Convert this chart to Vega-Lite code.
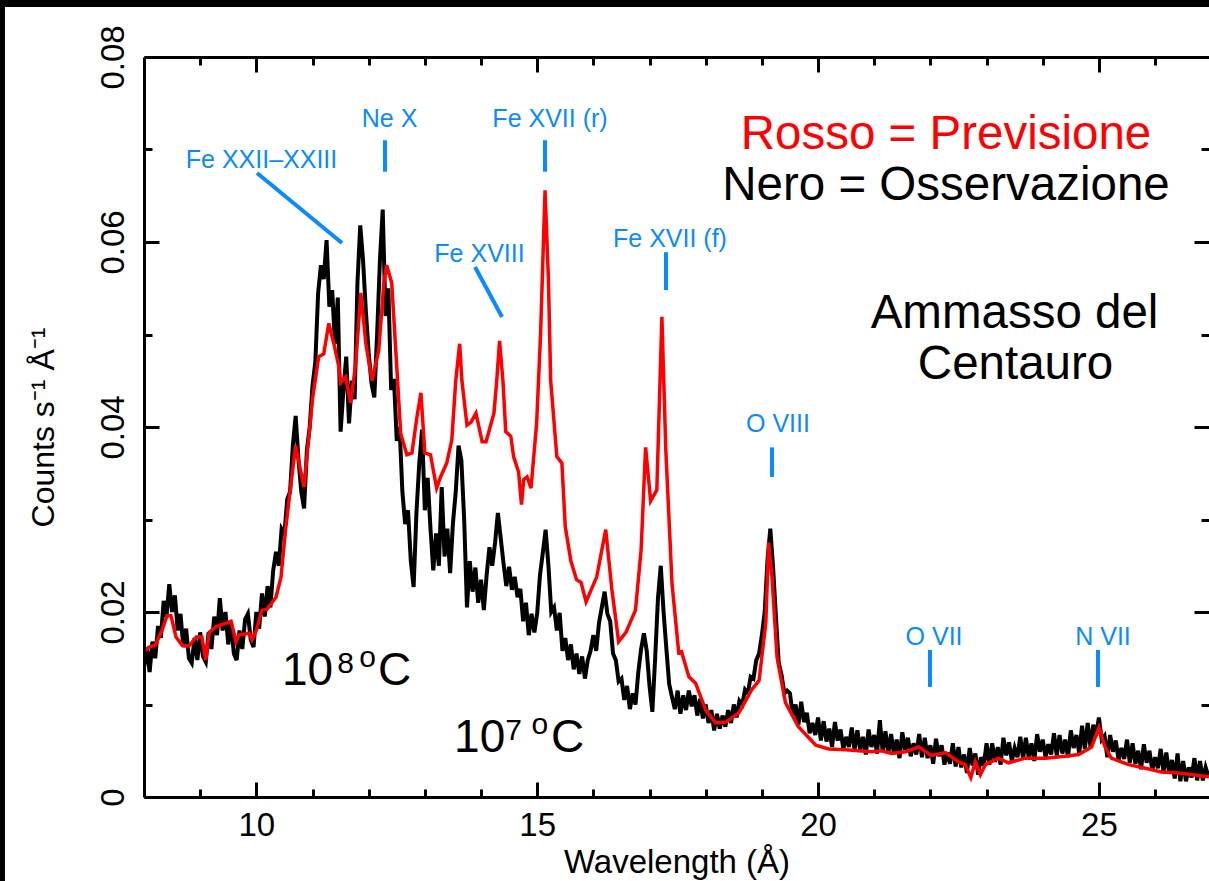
{
"$schema": "https://vega.github.io/schema/vega-lite/v6.json",
"autosize": {"type": "none"},
"padding": {"left": 144, "top": 57, "right": 0, "bottom": 84},
"width": 1065,
"height": 740,
"background": "black",
"config": {
  "view": {"stroke": null},
  "axis": {"grid": false, "domainColor": "black", "tickColor": "black", "labelColor": "black", "titleColor": "black", "labelFont": "Liberation Sans", "titleFont": "Liberation Sans", "labelFontSize": 33, "titleFontSize": 33, "titleFontWeight": "normal", "domainWidth": 3, "tickWidth": 3, "labelFlush": false, "labelOverlap": false},
  "text": {"font": "Liberation Sans"}
},
"datasets": {
  "obs": [
{"wl":8.00,"counts":0.0140},{"wl":8.05,"counts":0.0162},{"wl":8.10,"counts":0.0135},{"wl":8.15,"counts":0.0168},{"wl":8.20,"counts":0.0150},{"wl":8.25,"counts":0.0185},{"wl":8.30,"counts":0.0172},{"wl":8.35,"counts":0.0212},{"wl":8.40,"counts":0.0195},{"wl":8.45,"counts":0.0230},
{"wl":8.50,"counts":0.0200},{"wl":8.55,"counts":0.0218},{"wl":8.60,"counts":0.0180},{"wl":8.65,"counts":0.0198},{"wl":8.70,"counts":0.0162},{"wl":8.75,"counts":0.0182},{"wl":8.80,"counts":0.0150},{"wl":8.85,"counts":0.0145},{"wl":8.90,"counts":0.0172},{"wl":8.95,"counts":0.0148},
{"wl":9.00,"counts":0.0178},{"wl":9.05,"counts":0.0152},{"wl":9.10,"counts":0.0146},{"wl":9.15,"counts":0.0178},{"wl":9.20,"counts":0.0160},{"wl":9.25,"counts":0.0195},{"wl":9.30,"counts":0.0175},{"wl":9.35,"counts":0.0215},{"wl":9.40,"counts":0.0180},{"wl":9.45,"counts":0.0200},
{"wl":9.50,"counts":0.0165},{"wl":9.55,"counts":0.0188},{"wl":9.60,"counts":0.0155},{"wl":9.65,"counts":0.0148},{"wl":9.70,"counts":0.0180},{"wl":9.75,"counts":0.0160},{"wl":9.80,"counts":0.0192},{"wl":9.85,"counts":0.0198},{"wl":9.90,"counts":0.0170},{"wl":9.95,"counts":0.0162},
{"wl":10.00,"counts":0.0200},{"wl":10.05,"counts":0.0182},{"wl":10.10,"counts":0.0220},{"wl":10.15,"counts":0.0195},{"wl":10.20,"counts":0.0228},{"wl":10.25,"counts":0.0205},{"wl":10.30,"counts":0.0245},{"wl":10.35,"counts":0.0265},{"wl":10.40,"counts":0.0250},{"wl":10.45,"counts":0.0290},
{"wl":10.50,"counts":0.0285},{"wl":10.55,"counts":0.0322},{"wl":10.60,"counts":0.0330},{"wl":10.65,"counts":0.0380},{"wl":10.70,"counts":0.0412},{"wl":10.75,"counts":0.0365},{"wl":10.80,"counts":0.0330},{"wl":10.85,"counts":0.0312},{"wl":10.90,"counts":0.0375},{"wl":10.95,"counts":0.0400},
{"wl":11.00,"counts":0.0445},{"wl":11.05,"counts":0.0470},{"wl":11.10,"counts":0.0545},{"wl":11.15,"counts":0.0575},{"wl":11.20,"counts":0.0560},{"wl":11.25,"counts":0.0602},{"wl":11.30,"counts":0.0530},{"wl":11.35,"counts":0.0548},{"wl":11.40,"counts":0.0490},{"wl":11.45,"counts":0.0540},
{"wl":11.50,"counts":0.0395},{"wl":11.55,"counts":0.0440},{"wl":11.60,"counts":0.0476},{"wl":11.65,"counts":0.0404},{"wl":11.70,"counts":0.0450},{"wl":11.75,"counts":0.0430},{"wl":11.80,"counts":0.0556},{"wl":11.85,"counts":0.0618},{"wl":11.90,"counts":0.0580},{"wl":11.95,"counts":0.0525},
{"wl":12.00,"counts":0.0480},{"wl":12.05,"counts":0.0447},{"wl":12.10,"counts":0.0432},{"wl":12.15,"counts":0.0500},{"wl":12.20,"counts":0.0580},{"wl":12.25,"counts":0.0635},{"wl":12.30,"counts":0.0520},{"wl":12.35,"counts":0.0550},{"wl":12.40,"counts":0.0440},{"wl":12.45,"counts":0.0452},
{"wl":12.50,"counts":0.0385},{"wl":12.55,"counts":0.0400},{"wl":12.60,"counts":0.0330},{"wl":12.65,"counts":0.0295},{"wl":12.70,"counts":0.0310},{"wl":12.75,"counts":0.0255},{"wl":12.80,"counts":0.0227},{"wl":12.85,"counts":0.0307},{"wl":12.90,"counts":0.0360},{"wl":12.95,"counts":0.0397},
{"wl":13.00,"counts":0.0310},{"wl":13.05,"counts":0.0345},{"wl":13.10,"counts":0.0290},{"wl":13.15,"counts":0.0245},{"wl":13.20,"counts":0.0285},{"wl":13.25,"counts":0.0250},{"wl":13.30,"counts":0.0335},{"wl":13.35,"counts":0.0260},{"wl":13.40,"counts":0.0290},{"wl":13.45,"counts":0.0242},
{"wl":13.50,"counts":0.0296},{"wl":13.55,"counts":0.0330},{"wl":13.60,"counts":0.0380},{"wl":13.65,"counts":0.0364},{"wl":13.70,"counts":0.0300},{"wl":13.75,"counts":0.0205},{"wl":13.80,"counts":0.0255},{"wl":13.85,"counts":0.0222},{"wl":13.90,"counts":0.0248},{"wl":13.95,"counts":0.0210},
{"wl":14.00,"counts":0.0235},{"wl":14.05,"counts":0.0202},{"wl":14.10,"counts":0.0240},{"wl":14.15,"counts":0.0270},{"wl":14.20,"counts":0.0250},{"wl":14.25,"counts":0.0275},{"wl":14.30,"counts":0.0307},{"wl":14.35,"counts":0.0280},{"wl":14.40,"counts":0.0253},{"wl":14.45,"counts":0.0228},
{"wl":14.50,"counts":0.0249},{"wl":14.55,"counts":0.0224},{"wl":14.60,"counts":0.0238},{"wl":14.65,"counts":0.0216},{"wl":14.70,"counts":0.0225},{"wl":14.75,"counts":0.0190},{"wl":14.80,"counts":0.0210},{"wl":14.85,"counts":0.0175},{"wl":14.90,"counts":0.0198},{"wl":14.95,"counts":0.0178},
{"wl":15.00,"counts":0.0199},{"wl":15.05,"counts":0.0240},{"wl":15.10,"counts":0.0264},{"wl":15.15,"counts":0.0289},{"wl":15.20,"counts":0.0250},{"wl":15.25,"counts":0.0200},{"wl":15.30,"counts":0.0205},{"wl":15.35,"counts":0.0180},{"wl":15.40,"counts":0.0199},{"wl":15.45,"counts":0.0158},
{"wl":15.50,"counts":0.0172},{"wl":15.55,"counts":0.0148},{"wl":15.60,"counts":0.0165},{"wl":15.65,"counts":0.0138},{"wl":15.70,"counts":0.0155},{"wl":15.75,"counts":0.0133},{"wl":15.80,"counts":0.0152},{"wl":15.85,"counts":0.0128},{"wl":15.90,"counts":0.0148},{"wl":15.95,"counts":0.0158},
{"wl":16.00,"counts":0.0175},{"wl":16.05,"counts":0.0158},{"wl":16.10,"counts":0.0188},{"wl":16.15,"counts":0.0205},{"wl":16.20,"counts":0.0222},{"wl":16.25,"counts":0.0198},{"wl":16.30,"counts":0.0190},{"wl":16.35,"counts":0.0155},{"wl":16.40,"counts":0.0148},{"wl":16.45,"counts":0.0125},
{"wl":16.50,"counts":0.0128},{"wl":16.55,"counts":0.0105},{"wl":16.60,"counts":0.0120},{"wl":16.65,"counts":0.0095},{"wl":16.70,"counts":0.0112},{"wl":16.75,"counts":0.0100},{"wl":16.80,"counts":0.0135},{"wl":16.85,"counts":0.0160},{"wl":16.90,"counts":0.0177},{"wl":16.95,"counts":0.0158},
{"wl":17.00,"counts":0.0120},{"wl":17.05,"counts":0.0092},{"wl":17.10,"counts":0.0150},{"wl":17.15,"counts":0.0215},{"wl":17.20,"counts":0.0250},{"wl":17.25,"counts":0.0200},{"wl":17.30,"counts":0.0160},{"wl":17.35,"counts":0.0122},{"wl":17.40,"counts":0.0108},{"wl":17.45,"counts":0.0095},
{"wl":17.50,"counts":0.0115},{"wl":17.55,"counts":0.0090},{"wl":17.60,"counts":0.0110},{"wl":17.65,"counts":0.0094},{"wl":17.70,"counts":0.0115},{"wl":17.75,"counts":0.0098},{"wl":17.80,"counts":0.0110},{"wl":17.85,"counts":0.0088},{"wl":17.90,"counts":0.0106},{"wl":17.95,"counts":0.0085},
{"wl":18.00,"counts":0.0100},{"wl":18.05,"counts":0.0080},{"wl":18.10,"counts":0.0094},{"wl":18.15,"counts":0.0072},{"wl":18.20,"counts":0.0090},{"wl":18.25,"counts":0.0074},{"wl":18.30,"counts":0.0088},{"wl":18.35,"counts":0.0076},{"wl":18.40,"counts":0.0094},{"wl":18.45,"counts":0.0080},
{"wl":18.50,"counts":0.0100},{"wl":18.55,"counts":0.0086},{"wl":18.60,"counts":0.0104},{"wl":18.65,"counts":0.0100},{"wl":18.70,"counts":0.0116},{"wl":18.75,"counts":0.0112},{"wl":18.80,"counts":0.0130},{"wl":18.85,"counts":0.0128},{"wl":18.90,"counts":0.0148},{"wl":18.95,"counts":0.0155},
{"wl":19.00,"counts":0.0175},{"wl":19.05,"counts":0.0200},{"wl":19.10,"counts":0.0256},{"wl":19.15,"counts":0.0290},{"wl":19.20,"counts":0.0248},{"wl":19.25,"counts":0.0195},{"wl":19.30,"counts":0.0145},{"wl":19.35,"counts":0.0132},{"wl":19.40,"counts":0.0112},{"wl":19.45,"counts":0.0115},
{"wl":19.50,"counts":0.0112},{"wl":19.55,"counts":0.0088},{"wl":19.60,"counts":0.0100},{"wl":19.65,"counts":0.0078},{"wl":19.70,"counts":0.0103},{"wl":19.75,"counts":0.0081},{"wl":19.80,"counts":0.0091},{"wl":19.85,"counts":0.0069},{"wl":19.90,"counts":0.0080},{"wl":19.95,"counts":0.0067},
{"wl":20.00,"counts":0.0086},{"wl":20.05,"counts":0.0061},{"wl":20.10,"counts":0.0082},{"wl":20.15,"counts":0.0060},{"wl":20.20,"counts":0.0074},{"wl":20.25,"counts":0.0054},{"wl":20.30,"counts":0.0081},{"wl":20.35,"counts":0.0061},{"wl":20.40,"counts":0.0073},{"wl":20.45,"counts":0.0052},
{"wl":20.50,"counts":0.0065},{"wl":20.55,"counts":0.0054},{"wl":20.60,"counts":0.0075},{"wl":20.65,"counts":0.0051},{"wl":20.70,"counts":0.0072},{"wl":20.75,"counts":0.0051},{"wl":20.80,"counts":0.0065},{"wl":20.85,"counts":0.0046},{"wl":20.90,"counts":0.0073},{"wl":20.95,"counts":0.0054},
{"wl":21.00,"counts":0.0067},{"wl":21.05,"counts":0.0047},{"wl":21.10,"counts":0.0083},{"wl":21.15,"counts":0.0049},{"wl":21.20,"counts":0.0071},{"wl":21.25,"counts":0.0047},{"wl":21.30,"counts":0.0068},{"wl":21.35,"counts":0.0047},{"wl":21.40,"counts":0.0062},{"wl":21.45,"counts":0.0042},
{"wl":21.50,"counts":0.0070},{"wl":21.55,"counts":0.0051},{"wl":21.60,"counts":0.0064},{"wl":21.65,"counts":0.0044},{"wl":21.70,"counts":0.0058},{"wl":21.75,"counts":0.0046},{"wl":21.80,"counts":0.0068},{"wl":21.85,"counts":0.0043},{"wl":21.90,"counts":0.0064},{"wl":21.95,"counts":0.0042},
{"wl":22.00,"counts":0.0056},{"wl":22.05,"counts":0.0036},{"wl":22.10,"counts":0.0063},{"wl":22.15,"counts":0.0044},{"wl":22.20,"counts":0.0056},{"wl":22.25,"counts":0.0035},{"wl":22.30,"counts":0.0048},{"wl":22.35,"counts":0.0036},{"wl":22.40,"counts":0.0058},{"wl":22.45,"counts":0.0033},
{"wl":22.50,"counts":0.0054},{"wl":22.55,"counts":0.0032},{"wl":22.60,"counts":0.0046},{"wl":22.65,"counts":0.0026},{"wl":22.70,"counts":0.0053},{"wl":22.75,"counts":0.0034},{"wl":22.80,"counts":0.0047},{"wl":22.85,"counts":0.0024},{"wl":22.90,"counts":0.0043},{"wl":22.95,"counts":0.0034},
{"wl":23.00,"counts":0.0058},{"wl":23.05,"counts":0.0035},{"wl":23.10,"counts":0.0058},{"wl":23.15,"counts":0.0038},{"wl":23.20,"counts":0.0054},{"wl":23.25,"counts":0.0035},{"wl":23.30,"counts":0.0064},{"wl":23.35,"counts":0.0045},{"wl":23.40,"counts":0.0059},{"wl":23.45,"counts":0.0039},
{"wl":23.50,"counts":0.0053},{"wl":23.55,"counts":0.0043},{"wl":23.60,"counts":0.0065},{"wl":23.65,"counts":0.0041},{"wl":23.70,"counts":0.0064},{"wl":23.75,"counts":0.0043},{"wl":23.80,"counts":0.0058},{"wl":23.85,"counts":0.0039},{"wl":23.90,"counts":0.0068},{"wl":23.95,"counts":0.0049},
{"wl":24.00,"counts":0.0062},{"wl":24.05,"counts":0.0043},{"wl":24.10,"counts":0.0057},{"wl":24.15,"counts":0.0046},{"wl":24.20,"counts":0.0069},{"wl":24.25,"counts":0.0045},{"wl":24.30,"counts":0.0067},{"wl":24.35,"counts":0.0047},{"wl":24.40,"counts":0.0062},{"wl":24.45,"counts":0.0043},
{"wl":24.50,"counts":0.0072},{"wl":24.55,"counts":0.0053},{"wl":24.60,"counts":0.0067},{"wl":24.65,"counts":0.0047},{"wl":24.70,"counts":0.0077},{"wl":24.75,"counts":0.0052},{"wl":24.80,"counts":0.0080},{"wl":24.85,"counts":0.0054},{"wl":24.90,"counts":0.0078},{"wl":24.95,"counts":0.0066},
{"wl":25.00,"counts":0.0086},{"wl":25.05,"counts":0.0062},{"wl":25.10,"counts":0.0066},{"wl":25.15,"counts":0.0043},{"wl":25.20,"counts":0.0067},{"wl":25.25,"counts":0.0049},{"wl":25.30,"counts":0.0061},{"wl":25.35,"counts":0.0040},{"wl":25.40,"counts":0.0053},{"wl":25.45,"counts":0.0041},
{"wl":25.50,"counts":0.0062},{"wl":25.55,"counts":0.0037},{"wl":25.60,"counts":0.0058},{"wl":25.65,"counts":0.0036},{"wl":25.70,"counts":0.0050},{"wl":25.75,"counts":0.0030},{"wl":25.80,"counts":0.0057},{"wl":25.85,"counts":0.0037},{"wl":25.90,"counts":0.0050},{"wl":25.95,"counts":0.0029},
{"wl":26.00,"counts":0.0043},{"wl":26.05,"counts":0.0031},{"wl":26.10,"counts":0.0052},{"wl":26.15,"counts":0.0027},{"wl":26.20,"counts":0.0048},{"wl":26.25,"counts":0.0026},{"wl":26.30,"counts":0.0040},{"wl":26.35,"counts":0.0020},{"wl":26.40,"counts":0.0047},{"wl":26.45,"counts":0.0017},
{"wl":26.50,"counts":0.0039},{"wl":26.55,"counts":0.0017},{"wl":26.60,"counts":0.0032},{"wl":26.65,"counts":0.0021},{"wl":26.70,"counts":0.0042},{"wl":26.75,"counts":0.0018},{"wl":26.80,"counts":0.0039},{"wl":26.85,"counts":0.0018},{"wl":26.90,"counts":0.0032},{"wl":26.95,"counts":0.0022}
  ],
  "pred": [
{"wl":8.00,"counts":0.0157},{"wl":8.09,"counts":0.0162},{"wl":8.20,"counts":0.0164},{"wl":8.32,"counts":0.0180},{"wl":8.41,"counts":0.0196},{"wl":8.48,"counts":0.0196},{"wl":8.57,"counts":0.0173},{"wl":8.68,"counts":0.0164},{"wl":8.80,"counts":0.0163},{"wl":8.93,"counts":0.0173},
{"wl":9.03,"counts":0.0173},{"wl":9.10,"counts":0.0148},{"wl":9.16,"counts":0.0178},{"wl":9.28,"counts":0.0184},{"wl":9.46,"counts":0.0188},{"wl":9.55,"counts":0.0190},{"wl":9.64,"counts":0.0168},{"wl":9.69,"counts":0.0175},{"wl":9.87,"counts":0.0177},{"wl":9.92,"counts":0.0170},
{"wl":10.00,"counts":0.0180},{"wl":10.10,"counts":0.0202},{"wl":10.19,"counts":0.0203},{"wl":10.35,"counts":0.0216},{"wl":10.44,"counts":0.0238},{"wl":10.52,"counts":0.0289},{"wl":10.62,"counts":0.0340},{"wl":10.70,"counts":0.0380},{"wl":10.78,"counts":0.0355},{"wl":10.85,"counts":0.0335},
{"wl":10.92,"counts":0.0380},{"wl":11.00,"counts":0.0430},{"wl":11.11,"counts":0.0476},{"wl":11.20,"counts":0.0479},{"wl":11.29,"counts":0.0512},{"wl":11.38,"counts":0.0490},{"wl":11.47,"counts":0.0465},{"wl":11.50,"counts":0.0448},{"wl":11.59,"counts":0.0454},{"wl":11.68,"counts":0.0426},
{"wl":11.77,"counts":0.0469},{"wl":11.86,"counts":0.0545},{"wl":11.95,"counts":0.0490},{"wl":12.06,"counts":0.0450},{"wl":12.18,"counts":0.0483},{"wl":12.27,"counts":0.0556},{"wl":12.32,"counts":0.0575},{"wl":12.41,"counts":0.0556},{"wl":12.50,"counts":0.0465},{"wl":12.57,"counts":0.0393},
{"wl":12.68,"counts":0.0370},{"wl":12.77,"counts":0.0372},{"wl":12.86,"counts":0.0411},{"wl":12.93,"counts":0.0437},{"wl":13.00,"counts":0.0372},{"wl":13.10,"counts":0.0370},{"wl":13.21,"counts":0.0334},{"wl":13.28,"counts":0.0346},{"wl":13.39,"counts":0.0361},{"wl":13.48,"counts":0.0386},
{"wl":13.55,"counts":0.0450},{"wl":13.62,"counts":0.0490},{"wl":13.66,"counts":0.0450},{"wl":13.75,"counts":0.0402},{"wl":13.82,"counts":0.0405},{"wl":13.91,"counts":0.0415},{"wl":14.02,"counts":0.0384},{"wl":14.09,"counts":0.0384},{"wl":14.23,"counts":0.0415},{"wl":14.28,"counts":0.0450},
{"wl":14.33,"counts":0.0493},{"wl":14.39,"counts":0.0450},{"wl":14.44,"counts":0.0395},{"wl":14.53,"counts":0.0390},{"wl":14.58,"counts":0.0368},{"wl":14.67,"counts":0.0351},{"wl":14.72,"counts":0.0316},{"wl":14.76,"counts":0.0343},{"wl":14.82,"counts":0.0346},{"wl":14.89,"counts":0.0334},
{"wl":14.99,"counts":0.0404},{"wl":15.06,"counts":0.0500},{"wl":15.14,"counts":0.0656},{"wl":15.20,"counts":0.0560},{"wl":15.24,"counts":0.0450},{"wl":15.35,"counts":0.0368},{"wl":15.44,"counts":0.0361},{"wl":15.50,"counts":0.0292},{"wl":15.60,"counts":0.0255},{"wl":15.70,"counts":0.0235},
{"wl":15.78,"counts":0.0232},{"wl":15.87,"counts":0.0211},{"wl":16.06,"counts":0.0238},{"wl":16.22,"counts":0.0289},{"wl":16.33,"counts":0.0224},{"wl":16.45,"counts":0.0168},{"wl":16.58,"counts":0.0178},{"wl":16.75,"counts":0.0202},{"wl":16.85,"counts":0.0267},{"wl":16.93,"counts":0.0378},
{"wl":17.02,"counts":0.0320},{"wl":17.13,"counts":0.0332},{"wl":17.22,"counts":0.0519},{"wl":17.29,"counts":0.0375},{"wl":17.40,"counts":0.0231},{"wl":17.52,"counts":0.0156},{"wl":17.57,"counts":0.0157},{"wl":17.70,"counts":0.0130},{"wl":17.82,"counts":0.0123},{"wl":18.00,"counts":0.0094},
{"wl":18.18,"counts":0.0080},{"wl":18.36,"counts":0.0081},{"wl":18.59,"counts":0.0091},{"wl":18.82,"counts":0.0116},{"wl":18.95,"counts":0.0126},{"wl":19.07,"counts":0.0188},{"wl":19.12,"counts":0.0275},{"wl":19.18,"counts":0.0238},{"wl":19.27,"counts":0.0151},{"wl":19.42,"counts":0.0102},
{"wl":19.65,"counts":0.0076},{"wl":19.96,"counts":0.0056},{"wl":20.19,"counts":0.0052},{"wl":20.49,"counts":0.0051},{"wl":20.95,"counts":0.0049},{"wl":21.13,"counts":0.0050},{"wl":21.31,"counts":0.0047},{"wl":21.56,"counts":0.0049},{"wl":21.79,"counts":0.0054},{"wl":22.02,"counts":0.0045},
{"wl":22.27,"counts":0.0048},{"wl":22.50,"counts":0.0038},{"wl":22.62,"counts":0.0035},{"wl":22.72,"counts":0.0021},{"wl":22.80,"counts":0.0038},{"wl":22.89,"counts":0.0024},{"wl":22.98,"counts":0.0035},{"wl":23.21,"counts":0.0042},{"wl":23.39,"counts":0.0037},{"wl":23.69,"counts":0.0042},
{"wl":24.05,"counts":0.0042},{"wl":24.40,"counts":0.0044},{"wl":24.64,"counts":0.0046},{"wl":24.87,"counts":0.0054},{"wl":25.00,"counts":0.0075},{"wl":25.11,"counts":0.0054},{"wl":25.22,"counts":0.0042},{"wl":25.53,"counts":0.0035},{"wl":25.83,"counts":0.0031},{"wl":26.11,"counts":0.0027},
{"wl":26.42,"counts":0.0026},{"wl":26.96,"counts":0.0022}
  ],
  "ionMarks": [
{"wl":10.012,"counts":0.06746,"wl2":11.525,"counts2":0.05989},
{"wl":12.29,"counts":0.0710,"wl2":12.29,"counts2":0.0676},
{"wl":15.139,"counts":0.0710,"wl2":15.139,"counts2":0.0676},
{"wl":13.893,"counts":0.0573,"wl2":14.374,"counts2":0.05189},
{"wl":17.293,"counts":0.0589,"wl2":17.293,"counts2":0.0548},
{"wl":19.18,"counts":0.0378,"wl2":19.18,"counts2":0.0346},
{"wl":21.993,"counts":0.0159,"wl2":21.993,"counts2":0.0119},
{"wl":24.984,"counts":0.0159,"wl2":24.984,"counts2":0.0119}
  ],
  "ions": [
{"ion":"Fe XXII–XXIII","wl":10.092,"counts":0.0680},
{"ion":"Ne X","wl":12.371,"counts":0.07243},
{"ion":"Fe XVII (r)","wl":15.228,"counts":0.07243},
{"ion":"Fe XVIII","wl":13.973,"counts":0.05784},
{"ion":"Fe XVII (f)","wl":17.364,"counts":0.05946},
{"ion":"O VIII","wl":19.287,"counts":0.03946},
{"ion":"O VII","wl":22.065,"counts":0.01643},
{"ion":"N VII","wl":25.073,"counts":0.01643}
  ],
  "captions": [
{"note":"Nero = Osservazione","wl":22.278,"counts":0.06454},
{"note":"Ammasso del","wl":23.498,"counts":0.0507},
{"note":"Centauro","wl":23.516,"counts":0.04519}
  ],
  "legendRed": [
{"note":"Rosso = Previsione","wl":22.278,"counts":0.07005}
  ],
  "temps": [
{"piece":"10","part":"base","wl":10.457,"counts":0.01211},
{"piece":"8","part":"sup","wl":11.44,"counts":0.01341},
{"piece":"o","part":"sup","wl":11.83,"counts":0.01405},
{"piece":"C","part":"base","wl":12.166,"counts":0.01211},
{"piece":"10","part":"base","wl":13.52,"counts":0.004865},
{"piece":"7","part":"sup","wl":14.43,"counts":0.00616},
{"piece":"o","part":"sup","wl":14.9,"counts":0.00681},
{"piece":"C","part":"base","wl":15.246,"counts":0.004865}
  ]
},
"resolve": {"scale": {"x": "shared", "y": "shared"}, "axis": {"x": "independent", "y": "independent"}},
"layer": [
  {
    "data": {"values": [{}]},
    "mark": {"type": "rect", "color": "white"},
    "encoding": {
      "x": {"datum": 5.525, "type": "quantitative", "scale": {"domain": [8, 26.96], "nice": false, "zero": false},
            "axis": {"orient": "bottom", "zindex": 1, "values": [10, 15, 20, 25], "format": "d", "ticks": false, "domain": false, "labelPadding": 12, "title": "Wavelength (Å)", "titlePadding": 4}},
      "x2": {"datum": 28},
      "y": {"datum": 0.0854, "type": "quantitative", "scale": {"domain": [0, 0.08], "nice": false, "zero": false},
            "axis": {"orient": "left", "zindex": 1, "values": [0, 0.02, 0.04, 0.06, 0.08], "format": "~g", "ticks": false, "domain": false, "labelAngle": 270, "labelAlign": "center", "labelBaseline": "alphabetic", "labelPadding": 21, "title": "Counts s⁻¹ Å⁻¹", "titleFontSize": 32, "titlePadding": 37}},
      "y2": {"datum": -0.02}
    }
  },
  {
    "data": {"name": "obs"},
    "mark": {"type": "line", "color": "black", "strokeWidth": 4, "clip": true},
    "encoding": {
      "x": {"field": "wl", "type": "quantitative", "scale": {"domain": [8, 26.96], "nice": false, "zero": false},
            "axis": {"orient": "bottom", "zindex": 1, "values": [10, 15, 20, 25], "tickSize": -15, "labels": false, "domain": true, "title": null}},
      "y": {"field": "counts", "type": "quantitative", "scale": {"domain": [0, 0.08], "nice": false, "zero": false},
            "axis": {"orient": "left", "zindex": 1, "values": [0, 0.02, 0.04, 0.06, 0.08], "tickSize": -15, "labels": false, "domain": true, "title": null}}
    }
  },
  {
    "data": {"name": "pred"},
    "mark": {"type": "line", "color": "#ff0000", "strokeWidth": 3.5, "clip": true},
    "encoding": {
      "x": {"field": "wl", "type": "quantitative", "scale": {"domain": [8, 26.96], "nice": false, "zero": false},
            "axis": {"orient": "bottom", "zindex": 1, "values": [9, 11, 12, 13, 14, 16, 17, 18, 19, 21, 22, 23, 24, 26], "tickSize": -8, "labels": false, "domain": false, "title": null}},
      "y": {"field": "counts", "type": "quantitative", "scale": {"domain": [0, 0.08], "nice": false, "zero": false},
            "axis": {"orient": "left", "zindex": 1, "values": [0.01, 0.03, 0.05, 0.07], "tickSize": -8, "labels": false, "domain": false, "title": null}}
    }
  },
  {
    "data": {"name": "ionMarks"},
    "mark": {"type": "rule", "color": "#0a8aff", "strokeWidth": 4},
    "encoding": {
      "x": {"field": "wl", "type": "quantitative", "scale": {"domain": [8, 26.96], "nice": false, "zero": false},
            "axis": {"orient": "top", "zindex": 1, "values": [10, 15, 20, 25], "tickSize": -15, "labels": false, "domain": true, "title": null}},
      "x2": {"field": "wl2"},
      "y": {"field": "counts", "type": "quantitative", "scale": {"domain": [0, 0.08], "nice": false, "zero": false},
            "axis": {"orient": "right", "zindex": 1, "values": [0.02, 0.04, 0.06], "tickSize": -15, "labels": false, "domain": false, "title": null}},
      "y2": {"field": "counts2"}
    }
  },
  {
    "data": {"name": "ions"},
    "mark": {"type": "text", "color": "#0a8aff", "fontSize": 25, "align": "center", "baseline": "alphabetic"},
    "encoding": {
      "x": {"field": "wl", "type": "quantitative", "scale": {"domain": [8, 26.96], "nice": false, "zero": false},
            "axis": {"orient": "top", "zindex": 1, "values": [9, 11, 12, 13, 14, 16, 17, 18, 19, 21, 22, 23, 24, 26], "tickSize": -8, "labels": false, "domain": false, "title": null}},
      "y": {"field": "counts", "type": "quantitative", "scale": {"domain": [0, 0.08], "nice": false, "zero": false},
            "axis": {"orient": "right", "zindex": 1, "values": [0.01, 0.03, 0.05, 0.07], "tickSize": -8, "labels": false, "domain": false, "title": null}},
      "text": {"field": "ion"}
    }
  },
  {
    "data": {"name": "captions"},
    "mark": {"type": "text", "color": "black", "fontSize": 47.5, "align": "center", "baseline": "alphabetic"},
    "encoding": {
      "x": {"field": "wl", "type": "quantitative", "scale": {"domain": [8, 26.96], "nice": false, "zero": false}, "axis": null},
      "y": {"field": "counts", "type": "quantitative", "scale": {"domain": [0, 0.08], "nice": false, "zero": false}, "axis": null},
      "text": {"field": "note"}
    }
  },
  {
    "data": {"name": "legendRed"},
    "mark": {"type": "text", "color": "#ff0000", "fontSize": 47.5, "align": "center", "baseline": "alphabetic"},
    "encoding": {
      "x": {"field": "wl", "type": "quantitative", "scale": {"domain": [8, 26.96], "nice": false, "zero": false}, "axis": null},
      "y": {"field": "counts", "type": "quantitative", "scale": {"domain": [0, 0.08], "nice": false, "zero": false}, "axis": null},
      "text": {"field": "note"}
    }
  },
  {
    "data": {"name": "temps"},
    "transform": [{"filter": "datum.part === 'base'"}],
    "mark": {"type": "text", "color": "black", "fontSize": 46, "align": "left", "baseline": "alphabetic"},
    "encoding": {
      "x": {"field": "wl", "type": "quantitative", "scale": {"domain": [8, 26.96], "nice": false, "zero": false}, "axis": null},
      "y": {"field": "counts", "type": "quantitative", "scale": {"domain": [0, 0.08], "nice": false, "zero": false}, "axis": null},
      "text": {"field": "piece"}
    }
  },
  {
    "data": {"name": "temps"},
    "transform": [{"filter": "datum.part === 'sup'"}],
    "mark": {"type": "text", "color": "black", "fontSize": 30, "align": "left", "baseline": "alphabetic"},
    "encoding": {
      "x": {"field": "wl", "type": "quantitative", "scale": {"domain": [8, 26.96], "nice": false, "zero": false}, "axis": null},
      "y": {"field": "counts", "type": "quantitative", "scale": {"domain": [0, 0.08], "nice": false, "zero": false}, "axis": null},
      "text": {"field": "piece"}
    }
  }
]
}
